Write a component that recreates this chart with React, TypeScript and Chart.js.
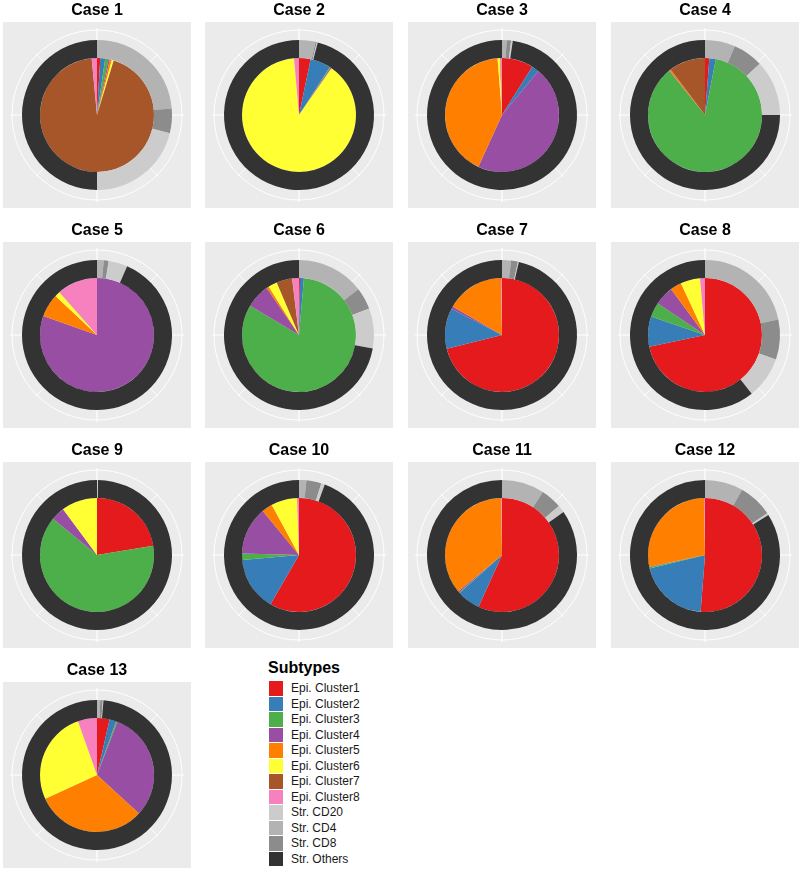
import React, { useEffect, useRef } from "react";
import { Chart, registerables } from "chart.js";

Chart.register(...registerables);

// ---- Data (shares per case, each ring sums to 360) ----
const cases = [
  "Case 1", "Case 2", "Case 3", "Case 4", "Case 5", "Case 6", "Case 7",
  "Case 8", "Case 9", "Case 10", "Case 11", "Case 12", "Case 13",
];

const epiCluster1 = [3.3, 11.8, 32, 4.4, 0, 1, 256, 258, 80.7, 210, 204.4, 184.4, 12.8];
const epiCluster2 = [5, 21, 7.5, 6.6, 0, 4, 41.5, 31, 0, 55, 23.8, 71.8, 6.8];
const epiCluster3 = [3.3, 0.7, 0, 310, 0, 296, 0, 14.7, 228.8, 6.5, 0.5, 1.3, 1.4];
const epiCluster4 = [1.5, 1, 165, 0.5, 289.6, 24.5, 2.5, 19.8, 14, 49, 1.5, 0.5, 111.6];
const epiCluster5 = [2, 0.5, 151, 1.5, 23.7, 2.5, 59, 11.5, 0, 11, 129, 101, 112.7];
const epiCluster6 = [2, 320, 2.5, 0, 5.4, 9, 0, 20, 36.5, 26.5, 0, 0, 95.2];
const epiCluster7 = [337.5, 0, 0.5, 37, 0, 16, 0, 0, 0, 0, 0, 0, 0];
const epiCluster8 = [5.4, 5, 1.5, 0, 41.3, 7, 1, 5, 0, 2, 0.8, 1, 19.5];

const strCD20 = [76, 0.7, 1.3, 43.2, 14.7, 31, 0.7, 32.5, 0.5, 2.8, 5.8, 1.5, 0.5];
const strCD4 = [85, 12.8, 3.6, 23.5, 5.2, 52.3, 7, 78, 0.3, 5.7, 33, 29.7, 2.5];
const strCD8 = [19, 1, 3.4, 23.3, 3.8, 17.1, 5.3, 31, 0, 11.6, 16.3, 26.5, 2];
const strOthers = [180, 345.5, 351.7, 270, 336.3, 259.6, 347, 218.5, 359.2, 339.9, 304.9, 302.3, 355];

// Legend order
const subtypeLabels = [
  "Epi. Cluster1", "Epi. Cluster2", "Epi. Cluster3", "Epi. Cluster4",
  "Epi. Cluster5", "Epi. Cluster6", "Epi. Cluster7", "Epi. Cluster8",
  "Str. CD20", "Str. CD4", "Str. CD8", "Str. Others",
];
const subtypeColors = [
  "#E41A1C", "#377EB8", "#4DAF4A", "#984EA3",
  "#FF7F00", "#FFFF33", "#A65628", "#F781BF",
  "#CCCCCC", "#B3B3B3", "#8C8C8C", "#333333",
];

const epiSeries = [epiCluster1, epiCluster2, epiCluster3, epiCluster4, epiCluster5, epiCluster6, epiCluster7, epiCluster8];
// drawing order around the ring (clockwise from 12 o'clock)
const strDrawSeries = [strCD4, strCD8, strCD20, strOthers];
const strDrawLabelIdx = [9, 10, 8, 11];

const FONT = "'Liberation Sans', Arial, Helvetica, sans-serif";

const panelPlugin = {
  id: "panelBg",
  beforeDraw(chart: any) {
    const { ctx, chartArea: a } = chart;
    ctx.save();
    ctx.fillStyle = "#EBEBEB";
    ctx.fillRect(a.left, a.top, a.right - a.left, a.bottom - a.top);
    const cx = (a.left + a.right) / 2;
    const cy = (a.top + a.bottom) / 2;
    ctx.strokeStyle = "#FFFFFF";
    for (let k = 0; k < 8; k++) {
      const ang = (k * Math.PI) / 4 - Math.PI / 2;
      ctx.lineWidth = k % 2 === 0 ? 1.2 : 0.8;
      ctx.beginPath();
      ctx.moveTo(cx, cy);
      ctx.lineTo(cx + 87 * Math.cos(ang), cy + 87 * Math.sin(ang));
      ctx.stroke();
    }
    ctx.lineWidth = 1;
    ctx.beginPath();
    ctx.arc(cx, cy, 85, 0, Math.PI * 2);
    ctx.stroke();
    ctx.restore();
  },
};

const PANEL_W = 188;
const TITLE_H = 22;
const PANEL_H = 186;
const colLefts = [3, 205, 408, 611];
const rowTops = [0, 220, 440, 660];

function CasePie({ idx }: { idx: number }) {
  const ref = useRef<HTMLCanvasElement | null>(null);
  useEffect(() => {
    if (!ref.current) return;
    const labels = [...subtypeLabels.slice(0, 8), ...strDrawLabelIdx.map((i) => subtypeLabels[i])];
    const colors = [...subtypeColors.slice(0, 8), ...strDrawLabelIdx.map((i) => subtypeColors[i])];
    const epiData = [...epiSeries.map((s) => s[idx]), 0, 0, 0, 0];
    const strData = [0, 0, 0, 0, 0, 0, 0, 0, ...strDrawSeries.map((s) => s[idx])];
    const chart = new Chart(ref.current, {
      type: "pie",
      data: {
        labels,
        datasets: [
          { data: strData, backgroundColor: colors, borderWidth: 0, weight: 18, radius: 75 } as any,
          { data: epiData, backgroundColor: colors, borderWidth: 0, weight: 57, radius: 75 } as any,
        ],
      },
      options: {
        responsive: false,
        animation: false,
        events: [],
        radius: 75,
        layout: { padding: 0 },
        plugins: {
          legend: { display: false },
          tooltip: { enabled: false },
          title: {
            display: true,
            text: cases[idx],
            color: "#000000",
            font: { family: FONT, size: 16, weight: "bold", lineHeight: 1 },
            padding: { top: 2.5, bottom: 3.5 },
          },
        },
      } as any,
      plugins: [panelPlugin],
    });
    return () => chart.destroy();
  }, [idx]);
  const col = idx % 4;
  const row = Math.floor(idx / 4);
  return (
    <canvas
      ref={ref}
      width={PANEL_W}
      height={TITLE_H + PANEL_H}
      style={{
        position: "absolute", left: colLefts[col], top: rowTops[row],
        width: PANEL_W, height: TITLE_H + PANEL_H, display: "block",
      }}
    />
  );
}

function Legend() {
  return (
    <div style={{ position: "absolute", left: 0, top: 0, fontFamily: FONT }}>
      <div
        style={{
          position: "absolute", left: 268, top: 659.5, fontSize: 16, fontWeight: "bold",
          lineHeight: "16px", whiteSpace: "nowrap", color: "#000",
        }}
      >
        Subtypes
      </div>
      {subtypeLabels.map((lab, i) => (
        <React.Fragment key={lab}>
          <div
            style={{
              position: "absolute", left: 269, top: 681 + i * 15.5, width: 14, height: 14.5,
              background: subtypeColors[i],
            }}
          />
          <div
            style={{
              position: "absolute", left: 291, top: 681.3 + i * 15.5, fontSize: 12,
              lineHeight: "14px", whiteSpace: "nowrap", color: "#1A1A1A",
            }}
          >
            {lab}
          </div>
        </React.Fragment>
      ))}
    </div>
  );
}

export default function App() {
  return (
    <div
      style={{
        position: "fixed", left: 0, top: 0, width: 800, height: 869,
        overflow: "hidden", background: "#FFFFFF",
      }}
    >
      {cases.map((_, i) => (
        <CasePie key={i} idx={i} />
      ))}
      <Legend />
    </div>
  );
}
